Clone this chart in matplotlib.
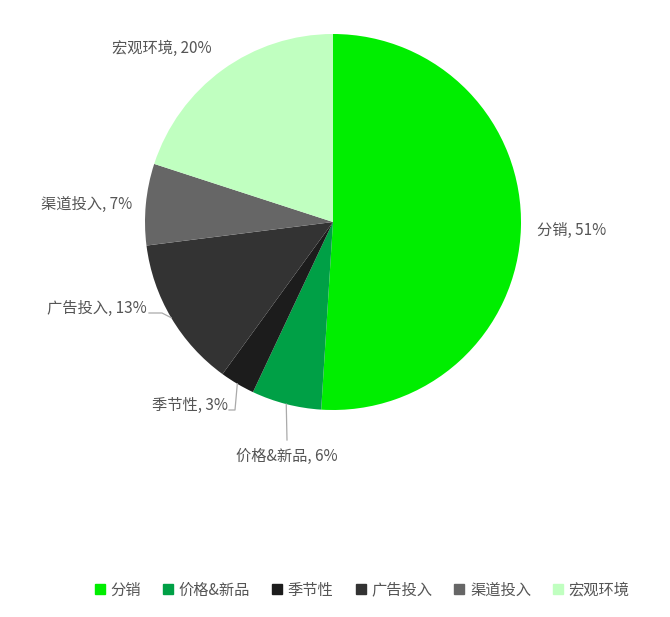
import numpy as np
import matplotlib
matplotlib.use("Agg")
import matplotlib.pyplot as plt
from matplotlib.lines import Line2D

plt.rcParams['font.family'] = ['Noto Sans CJK SC', 'DejaVu Sans']

categories = ['分销', '价格&新品', '季节性', '广告投入', '渠道投入', '宏观环境']
values = [51, 6, 3, 13, 7, 20]
colors = ['#00EE00', '#00A046', '#1C1C1C', '#333333', '#666666', '#C0FFC0']

W, H = 670, 617
fig = plt.figure(figsize=(W / 100, H / 100), dpi=100)

cx, cy, R = 333, 222, 188
ax = fig.add_axes([(cx - R) / W, (H - cy - R) / H, 2 * R / W, 2 * R / H])
wedges, _ = ax.pie(values, colors=colors, startangle=90, counterclock=False,
                   radius=1.0, wedgeprops=dict(linewidth=0))
ax.set_xlim(-1, 1)
ax.set_ylim(-1, 1)
ax.set_aspect('equal')
ax.axis('off')

def px(x, y):
    return (x / W, 1 - y / H)

# label positions (pixel, top-left origin), alignment, and leader line path after wedge edge
label_layout = [
    ((537, 230), 'left', []),
    ((287, 456), 'center', [(287, 440)]),
    ((228, 405), 'right', [(235, 410), (229, 410)]),
    ((147, 308), 'right', [(162, 313), (149, 313)]),
    ((132, 204), 'right', []),
    ((212, 48), 'right', []),
]

total = sum(values)
start = 90.0
txtcol = '#555555'
for i, (cat, v) in enumerate(zip(categories, values)):
    frac = v / total
    mid = np.deg2rad(start - 360 * frac / 2)
    start -= 360 * frac
    ex, ey = cx + R * np.cos(mid), cy - R * np.sin(mid)
    (lx, ly), ha, path = label_layout[i]
    pct = round(v / total * 100)
    fig.text(*px(lx, ly), f'{cat}, {pct}%', ha=ha, va='center',
             fontsize=11, color=txtcol)
    if path:
        pts = [(ex, ey)] + path
        xs = [p[0] / W for p in pts]
        ys = [1 - p[1] / H for p in pts]
        fig.add_artist(Line2D(xs, ys, color='#aaaaaa', linewidth=0.9,
                              transform=fig.transFigure))

handles = [Line2D([0], [0], marker='s', linestyle='none', markersize=6.5,
                  markerfacecolor=c, markeredgecolor=c) for c in colors]
leg = fig.legend(handles, categories, ncol=6, loc='center',
                 bbox_to_anchor=(362 / W, 1 - 590 / H), frameon=False,
                 fontsize=11, handlelength=0.7, handletextpad=0.35,
                 columnspacing=1.42, labelcolor=txtcol)

fig.savefig('out.png', dpi=100, facecolor='white')
